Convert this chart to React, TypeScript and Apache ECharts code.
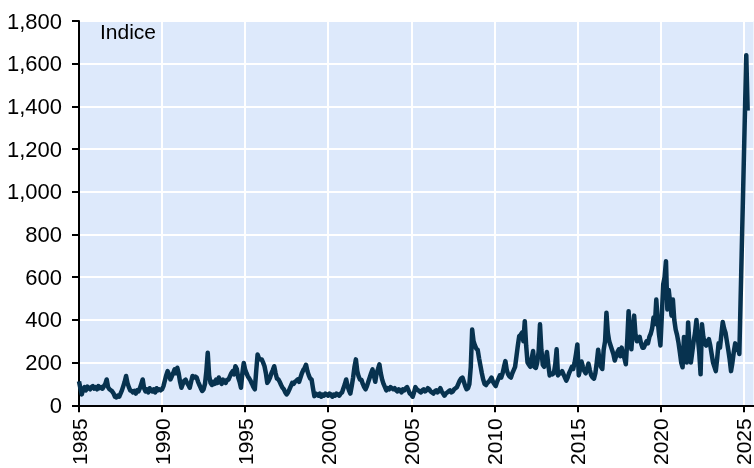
import React, { useEffect, useRef } from "react";
import * as echarts from "echarts";

// Monthly index values (Jan..Dec)
const values1985_1989 = [
  112, 80, 51, 75, 85, 70, 88, 80, 75, 85, 90, 78,
  85, 75, 90, 80, 85, 78, 90, 100, 121, 85, 75, 70,
  65, 55, 40, 37, 45, 40, 55, 70, 90, 110, 137, 105,
  85, 70, 67, 60, 67, 55, 70, 65, 80, 100, 121, 80,
  65, 75, 60, 80, 70, 65, 75, 60, 80, 70, 75, 70,
];
const values1990_1994 = [
  75, 90, 115, 140, 160, 145, 121, 135, 150, 168, 150, 176,
  150, 110, 82, 100, 115, 120, 105, 95, 82, 110, 137, 130,
  135, 130, 110, 95, 80, 67, 75, 100, 160, 246, 140, 105,
  95, 110, 100, 120, 105, 130, 115, 100, 120, 110, 105, 120,
  120, 135, 150, 160, 145, 183, 170, 130, 110, 82, 150, 198,
];
const values1995_1999 = [
  168, 150, 135, 125, 114, 100, 85, 75, 160, 238, 220, 215,
  215, 200, 183, 150, 105, 115, 130, 150, 165, 183, 150, 125,
  121, 110, 95, 82, 75, 60, 51, 60, 75, 90, 105, 100,
  110, 115, 121, 110, 130, 150, 165, 175, 190, 160, 140, 125,
  121, 80, 43, 55, 50, 45, 55, 40, 50, 45, 55, 50,
];
const values2000_2004 = [
  45, 55, 50, 40, 50, 45, 55, 50, 45, 55, 60, 80,
  98, 121, 90, 70, 55, 90, 130, 180, 215, 160, 135, 120,
  120, 100, 85, 75, 90, 110, 130, 150, 168, 140, 110, 150,
  170, 192, 150, 120, 100, 85, 70, 80, 75, 85, 80, 75,
  80, 70, 65, 75, 70, 60, 75, 70, 80, 85, 70, 55,
];
const values2005_2009 = [
  50, 40, 60, 85, 75, 70, 65, 60, 70, 75, 65, 70,
  80, 75, 65, 60, 55, 65, 70, 60, 70, 80, 65, 55,
  45, 55, 60, 65, 70, 60, 65, 75, 80, 85, 100, 115,
  125, 130, 110, 90, 75, 80, 100, 180, 355, 300, 280, 265,
  260, 220, 185, 150, 120, 100, 95, 105, 110, 120, 130, 110,
];
const values2010_2014 = [
  100, 90, 110, 125, 140, 130, 150, 180, 207, 165, 145, 135,
  130, 150, 165, 180, 230, 280, 324, 330, 340, 300, 394, 280,
  200, 190, 180, 220, 254, 180, 175, 200, 250, 379, 260, 190,
  180, 210, 250, 190, 140, 150, 145, 150, 190, 262, 140, 150,
  150, 160, 145, 130, 115, 130, 150, 165, 180, 170, 200, 240,
];
const values2015_2019 = [
  285, 140, 170, 205, 180, 160, 150, 170, 195, 165, 140, 130,
  125, 150, 200, 260, 210, 180, 170, 260, 300, 434, 340, 300,
  280, 260, 240, 210, 230, 250, 262, 230, 270, 240, 220, 192,
  300, 441, 330, 262, 350, 420, 330, 300, 310, 320, 290, 270,
  270, 285, 300, 290, 320, 335, 360, 411, 380, 495, 400, 330,
];
const values2020_2025 = [
  280, 420, 566, 600, 675, 449, 540, 480, 420, 495, 400, 355,
  330, 295, 250, 200, 178, 320, 250, 200, 388, 280, 200, 250,
  300, 340, 400, 320, 250, 145, 380, 320, 290, 280, 300, 310,
  280, 240, 200, 180, 160, 220, 290, 270, 330, 390, 360, 340,
  300, 260, 215, 160, 200, 250, 290, 260, 270, 240, null, null,
  null, null, 1640, 1380,
];

const startYear = 1985;
const xTicks = [1985, 1990, 1995, 2000, 2005, 2010, 2015, 2020, 2025];
const yTicks = [0, 200, 400, 600, 800, 1000, 1200, 1400, 1600, 1800];
const yAxisTitle = "Indice";

export default function App() {
  const ref = useRef<HTMLDivElement>(null);
  useEffect(() => {
    if (!ref.current) return;
    const chart = echarts.init(ref.current, undefined, { renderer: "svg" });
    const all = [
      ...values1985_1989,
      ...values1990_1994,
      ...values1995_1999,
      ...values2000_2004,
      ...values2005_2009,
      ...values2010_2014,
      ...values2015_2019,
      ...values2020_2025,
    ];
    const data = all.map((v, i) => [startYear + i / 12, v]);
    const font = "'Liberation Sans', Arial, sans-serif";
    chart.setOption({
      animation: false,
      grid: {
        left: 79,
        top: 21,
        right: 0,
        bottom: 62,
        show: true,
        backgroundColor: "#dde9fb",
        borderWidth: 0,
      },
      xAxis: {
        type: "value",
        min: 1985,
        max: 2025.6,
        axisLine: { show: true, onZero: false, lineStyle: { color: "#000", width: 2 } },
        axisTick: {
          show: true,
          length: 7,
          customValues: xTicks,
          lineStyle: { color: "#000", width: 2 },
        },
        axisLabel: {
          customValues: xTicks,
          rotate: 90,
          margin: 13,
          color: "#000",
          fontFamily: font,
          fontSize: 21,
          formatter: (v: number) => String(Math.round(v)),
        },
        splitLine: { show: true, lineStyle: { color: "#ffffff", width: 2 } },
      },
      yAxis: {
        type: "value",
        min: yTicks[0],
        max: yTicks[yTicks.length - 1],
        interval: 200,
        axisLine: { show: true, lineStyle: { color: "#000", width: 2 } },
        axisTick: { show: true, length: 7, lineStyle: { color: "#000", width: 2 } },
        axisLabel: {
          margin: 17,
          color: "#000",
          fontFamily: font,
          fontSize: 22,
          formatter: (v: number) => v.toLocaleString("en-US"),
        },
        splitLine: { show: true, lineStyle: { color: "#ffffff", width: 2 } },
      },
      graphic: [
        {
          type: "text",
          left: 100,
          top: 21,
          style: { text: yAxisTitle, fill: "#000", font: `21px ${font}` },
        },
      ],
      series: [
        {
          type: "line",
          data,
          showSymbol: false,
          connectNulls: true,
          lineStyle: { color: "#07324f", width: 4.5, join: "round" },
          itemStyle: { color: "#07324f" },
        },
      ],
    });
    return () => chart.dispose();
  }, []);
  return (
    <div
      ref={ref}
      style={{ position: "fixed", left: 0, top: 0, width: 754, height: 468 }}
    />
  );
}
